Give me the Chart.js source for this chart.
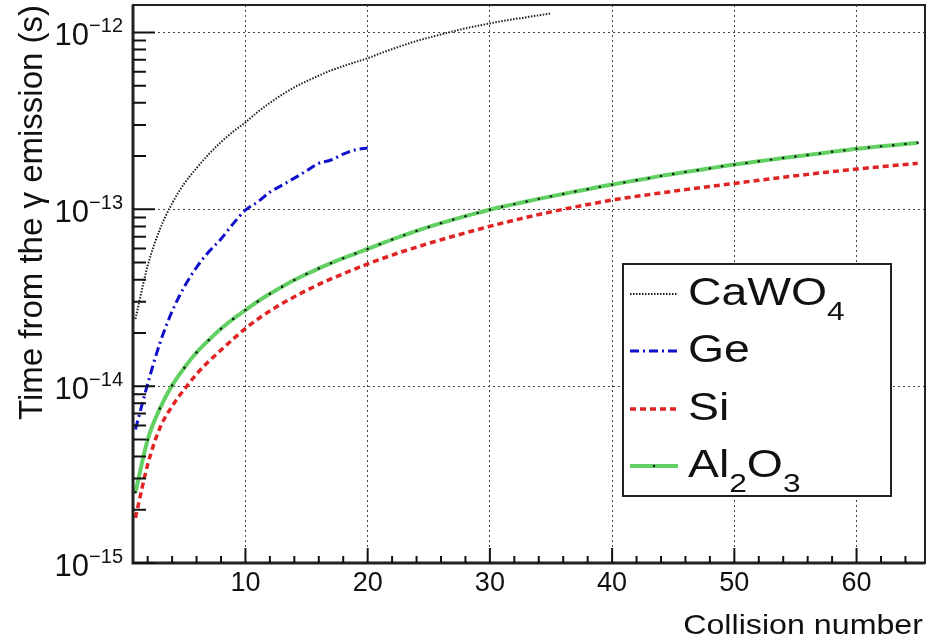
<!DOCTYPE html>
<html><head><meta charset="utf-8">
<script src="https://cdn.jsdelivr.net/npm/chart.js@4.4.1/dist/chart.umd.min.js"></script>
<style>html,body{margin:0;padding:0;background:#fff;}#wrap{width:938px;height:640px;}</style>
</head><body><div id="wrap"><canvas id="c" width="938" height="640"></canvas></div>
<script>
// ---------- data ----------
const seriesLabels = ['CaWO₄', 'Ge', 'Si', 'Al₂O₃'];
const xAxisTitle = 'Collision number';
const yAxisTitle = 'Time from the γ emission (s)';
const xTickValues = [10, 20, 30, 40, 50, 60];
const yTickValues = [1e-15, 1e-14, 1e-13, 1e-12];

const caWO4Collisions = [1,2,3,4,5,6,7,8,9,10,11,12,13,14,15,16,17,18,19,20,21,22,23,24,25,26,27,28,29,30,31,32,33,34,35];
const caWO4Time = [2.4e-14,4.8e-14,7.7e-14,1.08e-13,1.40e-13,1.71e-13,2.05e-13,2.4e-13,2.75e-13,3.1e-13,
  3.55e-13,4.0e-13,4.45e-13,4.9e-13,5.3e-13,5.7e-13,6.1e-13,6.45e-13,6.8e-13,7.15e-13,
  7.6e-13,8.05e-13,8.5e-13,8.95e-13,9.35e-13,9.75e-13,1.015e-12,1.055e-12,1.09e-12,1.125e-12,
  1.16e-12,1.19e-12,1.22e-12,1.25e-12,1.28e-12];

const geCollisions = [1,2,3,4,5,6,7,8,9,10,11,12,13,14,15,16,17,18,19,20];
const geTime = [5.7e-15,1.03e-14,1.75e-14,2.65e-14,3.65e-14,4.7e-14,5.75e-14,6.8e-14,8.3e-14,9.9e-14,
  1.1e-13,1.25e-13,1.37e-13,1.5e-13,1.65e-13,1.82e-13,1.9e-13,2.05e-13,2.17e-13,2.22e-13];

const siCollisions = [1,2,3,4,5,6,7,8,9,10,11,12,13,14,15,16,17,18,19,20,21,22,23,24,25,26,27,28,29,30,31,32,33,34,35,36,37,38,39,40,41,42,43,44,45,46,47,48,49,50,51,52,53,54,55,56,57,58,59,60,61,62,63,64,65];
const siTime = [1.8e-15,3.6e-15,5.8e-15,7.7e-15,9.6e-15,1.17e-14,1.38e-14,1.60e-14,1.85e-14,2.12e-14,
  2.39e-14,2.66e-14,2.93e-14,3.20e-14,3.48e-14,3.76e-14,4.04e-14,4.32e-14,4.61e-14,4.91e-14,
  5.21e-14,5.51e-14,5.81e-14,6.11e-14,6.42e-14,6.73e-14,7.04e-14,7.36e-14,7.68e-14,8.02e-14,
  8.35e-14,8.68e-14,9.01e-14,9.34e-14,9.67e-14,1.0e-13,1.032e-13,1.064e-13,1.096e-13,1.13e-13,
  1.157e-13,1.184e-13,1.211e-13,1.238e-13,1.265e-13,1.292e-13,1.319e-13,1.346e-13,1.373e-13,1.40e-13,
  1.43e-13,1.46e-13,1.489e-13,1.518e-13,1.547e-13,1.576e-13,1.605e-13,1.634e-13,1.662e-13,1.69e-13,
  1.716e-13,1.742e-13,1.768e-13,1.794e-13,1.82e-13];

const al2O3Collisions = [1,2,3,4,5,6,7,8,9,10,11,12,13,14,15,16,17,18,19,20,21,22,23,24,25,26,27,28,29,30,31,32,33,34,35,36,37,38,39,40,41,42,43,44,45,46,47,48,49,50,51,52,53,54,55,56,57,58,59,60,61,62,63,64,65];
const al2O3Time = [2.51e-15,4.98e-15,7.48e-15,1.01e-14,1.27e-14,1.55e-14,1.82e-14,2.11e-14,2.40e-14,2.69e-14,
  3.01e-14,3.33e-14,3.65e-14,3.98e-14,4.31e-14,4.63e-14,4.96e-14,5.29e-14,5.62e-14,5.97e-14,
  6.35e-14,6.75e-14,7.15e-14,7.55e-14,7.95e-14,8.35e-14,8.75e-14,9.15e-14,9.55e-14,9.95e-14,
  1.033e-13,1.07e-13,1.108e-13,1.146e-13,1.184e-13,1.222e-13,1.26e-13,1.30e-13,1.34e-13,1.38e-13,
  1.42e-13,1.46e-13,1.50e-13,1.545e-13,1.585e-13,1.625e-13,1.665e-13,1.705e-13,1.75e-13,1.79e-13,
  1.83e-13,1.87e-13,1.91e-13,1.95e-13,1.99e-13,2.03e-13,2.07e-13,2.115e-13,2.155e-13,2.20e-13,
  2.235e-13,2.27e-13,2.305e-13,2.34e-13,2.38e-13];

// ---------- helpers ----------
const FONT = "'Liberation Sans', Arial, Helvetica, sans-serif";
const toXY = (xs, ys) => xs.map((x, i) => ({ x: x, y: ys[i] }));

function drawRich(ctx, parts, x, y, size, subSize, subDrop, sx) {
  ctx.save();
  ctx.translate(x, y);
  ctx.scale(sx, 1);
  ctx.textAlign = 'left';
  ctx.textBaseline = 'alphabetic';
  let cx = 0;
  parts.forEach(p => {
    ctx.font = (p.sub ? subSize : size) + 'px ' + FONT;
    ctx.fillText(p.t, cx, p.sub ? subDrop : 0);
    cx += ctx.measureText(p.t).width;
  });
  ctx.restore();
}

const legendParts = [
  [{ t: 'CaWO' }, { t: '4', sub: true }],
  [{ t: 'Ge' }],
  [{ t: 'Si' }],
  [{ t: 'Al' }, { t: '2', sub: true }, { t: 'O' }, { t: '3', sub: true }]
];

const rootPlugin = {
  id: 'rootStyle',
  afterDraw(chart) {
    const ctx = chart.ctx;
    const ca = chart.chartArea;
    const xs = chart.scales.x, ys = chart.scales.y;
    ctx.save();
    // frame
    ctx.setLineDash([]);
    ctx.strokeStyle = '#222';
    ctx.lineWidth = 2;
    ctx.strokeRect(ca.left, ca.top, ca.right - ca.left, ca.bottom - ca.top);
    ctx.lineWidth = 3;
    ctx.beginPath();
    ctx.moveTo(ca.left, ca.top); ctx.lineTo(ca.left, ca.bottom); ctx.lineTo(ca.right, ca.bottom);
    ctx.stroke();
    // x ticks (inside)
    ctx.lineWidth = 2;
    ctx.strokeStyle = '#111';
    ctx.beginPath();
    for (let v = 2; v < xs.max; v += 2) {
      const px = xs.getPixelForValue(v);
      const len = (v % 10 === 0) ? 15 : 7;
      ctx.moveTo(px, ca.bottom); ctx.lineTo(px, ca.bottom - len);
    }
    ctx.stroke();
    // y ticks (inside)
    ctx.beginPath();
    for (let e = -15; e <= -12; e++) {
      for (let m = 1; m <= 9; m++) {
        const v = m * Math.pow(10, e);
        if (v < ys.min * 0.999 || v > ys.max) continue;
        const py = ys.getPixelForValue(v);
        const len = m === 1 ? 22 : 13;
        ctx.moveTo(ca.left, py); ctx.lineTo(ca.left + len, py);
      }
    }
    ctx.stroke();
    // y tick labels 10^n
    ctx.fillStyle = '#111';
    yTickValues.forEach(v => {
      const py = ys.getPixelForValue(v);
      const e = Math.round(Math.log10(v));
      const sup = '\u2212' + Math.abs(e);
      ctx.font = '20px ' + FONT;
      const supW = ctx.measureText(sup).width;
      const supX = ca.left - 10 - supW;
      ctx.textAlign = 'left';
      ctx.textBaseline = 'alphabetic';
      ctx.fillText(sup, supX, py);
      ctx.font = '31px ' + FONT;
      ctx.textAlign = 'right';
      ctx.fillText('10', supX, py + 13);
    });
    // axis titles
    ctx.save();
    ctx.font = '28px ' + FONT;
    ctx.textAlign = 'right';
    ctx.textBaseline = 'alphabetic';
    ctx.translate(923, 634);
    ctx.scale(1.15, 1);
    ctx.fillText(xAxisTitle, 0, 0);
    ctx.restore();
    ctx.save();
    ctx.font = '33px ' + FONT;
    ctx.textAlign = 'right';
    ctx.textBaseline = 'alphabetic';
    ctx.translate(42, 5);
    ctx.rotate(-Math.PI / 2);
    ctx.fillText(yAxisTitle, 0, 0);
    ctx.restore();
    // legend
    const lx = 623, ly = 264, lw = 268, lh = 232;
    ctx.fillStyle = '#fff';
    ctx.fillRect(lx, ly, lw, lh);
    ctx.setLineDash([]);
    ctx.lineWidth = 2;
    ctx.strokeStyle = '#222';
    ctx.strokeRect(lx, ly, lw, lh);
    const baselines = [305, 362, 420, 477];
    chart.data.datasets.forEach((ds, i) => {
      const yy = baselines[i] - 11;
      ctx.save();
      ctx.strokeStyle = ds.borderColor;
      ctx.lineWidth = ds.borderWidth;
      ctx.setLineDash(ds.borderDash || []);
      ctx.beginPath();
      ctx.moveTo(630, yy); ctx.lineTo(678, yy);
      ctx.stroke();
      if (ds.pointRadius > 0) {
        ctx.fillStyle = ds.pointBackgroundColor;
        ctx.beginPath(); ctx.arc(654, yy, ds.pointRadius, 0, Math.PI * 2); ctx.fill();
      }
      ctx.restore();
      ctx.fillStyle = '#111';
      drawRich(ctx, legendParts[i], 688, baselines[i], 38, 26, 15, 1.22);
    });
    ctx.restore();
  }
};

new Chart(document.getElementById('c').getContext('2d'), {
  type: 'line',
  data: {
    datasets: [
      { label: seriesLabels[0], data: toXY(caWO4Collisions, caWO4Time), borderColor: '#222', borderWidth: 2,
        borderDash: [1.5, 1.5], pointRadius: 0, fill: false, cubicInterpolationMode: 'monotone' },
      { label: seriesLabels[1], data: toXY(geCollisions, geTime), borderColor: '#1010cc', borderWidth: 3,
        borderDash: [9, 4, 2, 4], pointRadius: 0, fill: false, cubicInterpolationMode: 'monotone' },
      { label: seriesLabels[2], data: toXY(siCollisions, siTime), borderColor: '#e02424', borderWidth: 3.5,
        borderDash: [6, 4], pointRadius: 0, fill: false, cubicInterpolationMode: 'monotone' },
      { label: seriesLabels[3], data: toXY(al2O3Collisions, al2O3Time), borderColor: '#62d062', borderWidth: 4,
        pointRadius: 1.2, pointBackgroundColor: '#111', pointBorderWidth: 0, fill: false, cubicInterpolationMode: 'monotone' }
    ]
  },
  options: {
    responsive: false,
    animation: false,
    devicePixelRatio: 1,
    layout: { padding: { left: 0, top: 5, right: 13, bottom: 0 } },
    plugins: { legend: { display: false }, tooltip: { enabled: false }, title: { display: false } },
    scales: {
      x: {
        type: 'linear', min: 0.8, max: 65.6,
        afterBuildTicks: s => { s.ticks = xTickValues.map(v => ({ value: v })); },
        afterFit: s => { s.height = 77; },
        grid: { drawTicks: false, color: '#444', lineWidth: 1, borderDash: [2, 3] },
        border: { display: false, dash: [2, 3] },
        ticks: { font: { family: FONT, size: 27 }, color: '#111', padding: 4, maxRotation: 0, autoSkip: false }
      },
      y: {
        type: 'logarithmic', min: 1e-15, max: 1.43e-12,
        afterBuildTicks: s => { s.ticks = yTickValues.map(v => ({ value: v })); },
        afterFit: s => { s.width = 133; },
        grid: { drawTicks: false, color: '#444', lineWidth: 1, borderDash: [2, 3] },
        border: { display: false, dash: [2, 3] },
        ticks: { display: false }
      }
    }
  },
  plugins: [rootPlugin]
});
</script>
</body></html>
